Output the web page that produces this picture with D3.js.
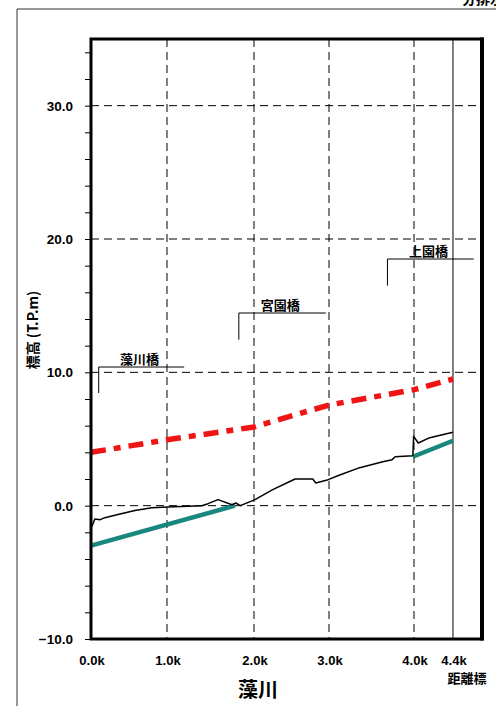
<!DOCTYPE html>
<html><head><meta charset="utf-8">
<script src="https://cdn.jsdelivr.net/npm/d3@7"></script>
<style>
html,body{margin:0;padding:0;background:#fff;}
svg{display:block;font-family:"Liberation Sans",Arial,sans-serif;}
</style></head>
<body>
<svg id="c" width="496" height="706"></svg>
<script>
// ---- data ----
const kpLabels = ["0.0k","1.0k","2.0k","3.0k","4.0k","4.4k"];
const kpDist   = [0, 0.987, 2.117, 3.091, 4.195, 4.701];
const yTickLabels = [-10, 0, 10, 20, 30];
const yMinor = d3.range(-10, 35.1, 2);

const bedDist = [0.01,0.05,0.12,0.18,0.35,0.57,0.79,1.00,1.44,1.52,1.65,1.83,1.88,1.94,2.13,2.36,2.65,2.88,2.92,3.08,3.23,3.49,3.79,3.91,3.95,4.18,4.19,4.25,4.40,4.70];
const bedElev = [-1.57,-1.0,-1.05,-0.9,-0.67,-0.37,-0.15,-0.1,0.0,0.15,0.45,0.07,0.2,0.0,0.45,1.2,2.0,2.0,1.7,1.95,2.3,2.85,3.3,3.45,3.67,3.75,5.2,4.7,5.1,5.5];

const waterDist = [0, 0.987, 2.117, 3.091, 4.195, 4.701];
const waterElev = [4.0, 4.94, 5.9, 7.55, 8.7, 9.5];

const planDist1 = [0, 1.87];
const planElev1 = [-3.0, 0.0];
const planDist2 = [4.18, 4.70];
const planElev2 = [3.67, 4.87];

const bridgeNames = ["藻川橋","宮園橋","上園橋"];
const bridgeStart = [0.10, 1.92, 3.85];
const bridgeEnd   = [1.21, 3.05, 4.97];
const bridgeTop   = [10.4, 14.45, 18.5];
const bridgeBottom= [8.45, 12.45, 16.5];

// ---- layout ----
const svg = d3.select("#c");
const L = 91, R = 482, T = 39, B = 639;
const x = d3.scaleLinear().domain([0, 5.078]).range([L, R]);
const y = d3.scaleLinear().domain([-10, 35]).range([B, T]);

// outer frame
svg.append("line").attr("x1",17).attr("x2",17).attr("y1",9).attr("y2",706).attr("stroke","#333").attr("stroke-width",1);
svg.append("line").attr("x1",17).attr("x2",496).attr("y1",9).attr("y2",9).attr("stroke","#333").attr("stroke-width",1);
svg.append("text").attr("x",462).attr("y",4).attr("font-size",14).attr("font-weight","bold")
  .attr("font-family","Noto Sans CJK JP").text("分排水");

// grid
const g = svg.append("g");
yTickLabels.filter(v => v > -10).forEach(v => {
  g.append("line").attr("x1",L).attr("x2",R).attr("y1",y(v)).attr("y2",y(v))
    .attr("stroke","#000").attr("stroke-width",1).attr("stroke-dasharray","8,5");
});
kpDist.forEach((d,i) => {
  if (i === 0) return;
  g.append("line").attr("x1",x(d)).attr("x2",x(d)).attr("y1",T).attr("y2",B)
    .attr("stroke","#000").attr("stroke-width",1)
    .attr("stroke-dasharray", i === kpDist.length-1 ? null : "8,5");
});

// y axis ticks
const yAxis = d3.axisLeft(y).tickValues(yMinor).tickSize(6).tickFormat("");
const ya = svg.append("g").attr("transform",`translate(${L},0)`).call(yAxis);
ya.select(".domain").remove();
ya.selectAll("line").attr("stroke","#000");
yTickLabels.forEach(v => {
  svg.append("text").attr("x",73).attr("y",y(v)+5).attr("text-anchor","end")
    .attr("font-size",13.5).attr("font-weight","bold").text(d3.format(".1f")(v).replace("-","−"));
});

// x labels
kpDist.forEach((d,i) => {
  svg.append("text").attr("x",x(d)+1).attr("y",665).attr("text-anchor","middle")
    .attr("font-size",13).attr("font-weight","bold").text(kpLabels[i]);
});
svg.append("text").attr("x",467).attr("y",683).attr("text-anchor","middle")
  .attr("font-size",13).attr("font-weight","bold").attr("font-family","Noto Sans CJK JP").text("距離標");
svg.append("text").attr("x",258).attr("y",697).attr("text-anchor","middle")
  .attr("font-size",20).attr("font-weight","bold").attr("font-family","Noto Sans CJK JP").text("藻川");

// y title
svg.append("text").attr("transform","translate(38,330) rotate(-90)").attr("text-anchor","middle")
  .attr("font-size",14).attr("font-weight","bold").attr("font-family","Noto Sans CJK JP").text("標高 (T.P.m)");

// bridges
bridgeNames.forEach((n,i) => {
  const bg = svg.append("g");
  bg.append("path").attr("d", d3.line()([[x(bridgeStart[i]), y(bridgeBottom[i])],[x(bridgeStart[i]), y(bridgeTop[i])],[x(bridgeEnd[i]), y(bridgeTop[i])]]))
    .attr("fill","none").attr("stroke","#000").attr("stroke-width",1);
  bg.append("text").attr("x",(x(bridgeStart[i])+x(bridgeEnd[i]))/2 - 2).attr("y",y(bridgeTop[i])-3)
    .attr("text-anchor","middle").attr("font-size",13).attr("font-weight","bold")
    .attr("font-family","Noto Sans CJK JP").text(n);
});

const line = d3.line().x(d=>x(d[0])).y(d=>y(d[1]));
// plan bed (teal)
[[planDist1,planElev1],[planDist2,planElev2]].forEach(([ds,es]) => {
  svg.append("path").attr("d", line(ds.map((d,i)=>[d,es[i]])))
    .attr("fill","none").attr("stroke","#17877f").attr("stroke-width",4.5);
});
// current bed (black)
svg.append("path").attr("d", line(bedDist.map((d,i)=>[d,bedElev[i]])))
  .attr("fill","none").attr("stroke","#000").attr("stroke-width",1.5).attr("stroke-linejoin","round");
// design water level (red dash-dot)
svg.append("path").attr("d", line(waterDist.map((d,i)=>[d,waterElev[i]])))
  .attr("fill","none").attr("stroke","#f01414").attr("stroke-width",5.5).attr("stroke-dasharray","15,8,7,8");

// plot frame
svg.append("rect").attr("x",L).attr("y",T).attr("width",R-L).attr("height",B-T)
  .attr("fill","none").attr("stroke","#000").attr("stroke-width",3);
svg.append("line").attr("x1",R).attr("x2",R).attr("y1",T-1.5).attr("y2",B+1.5).attr("stroke","#000").attr("stroke-width",4);
</script>
</body></html>
